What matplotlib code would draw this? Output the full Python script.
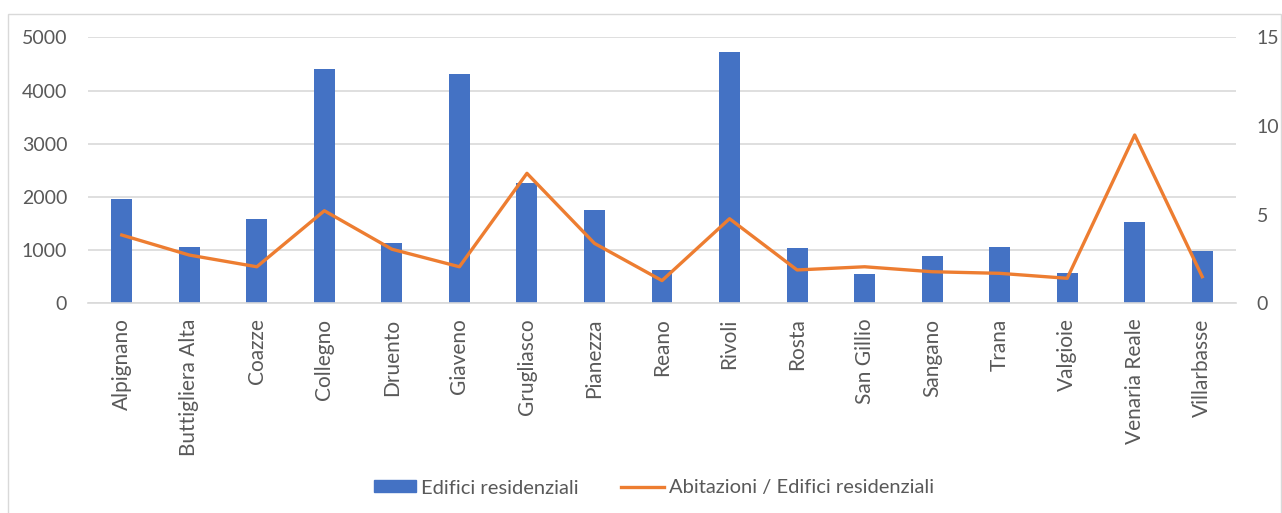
import numpy as np
import matplotlib.pyplot as plt
from matplotlib.patches import Rectangle
from matplotlib.lines import Line2D

plt.rcParams['font.family'] = ['Lato', 'DejaVu Sans']

# comuni e dati
comuni = ['Alpignano', 'Buttigliera Alta', 'Coazze', 'Collegno', 'Druento',
          'Giaveno', 'Grugliasco', 'Pianezza', 'Reano', 'Rivoli', 'Rosta',
          'San Gillio', 'Sangano', 'Trana', 'Valgioie', 'Venaria Reale',
          'Villarbasse']
edifici = [1960, 1064, 1579, 4398, 1139, 4310, 2256, 1754, 626, 4729, 1039,
           551, 889, 1064, 575, 1523, 989]
rapporto = [3.85, 2.72, 2.06, 5.22, 3.05, 2.06, 7.33, 3.38, 1.28, 4.77, 1.88,
            2.06, 1.78, 1.69, 1.41, 9.49, 1.50]

blu = '#4472C4'
arancio = '#ED7D31'
grigio = '#595959'

fig = plt.figure(figsize=(12.82, 5.13), dpi=100)
# cornice del grafico
fig.patches.append(Rectangle((8 / 1282, -0.01), 1273 / 1282, 1 - 14 / 513 + 0.01,
                             transform=fig.transFigure, fill=False,
                             edgecolor='#D9D9D9', linewidth=1))

ax = fig.add_axes([88 / 1282, 1 - 303.3 / 513, (1236 - 88) / 1282, (303.3 - 37.3) / 513])
x = np.arange(len(comuni))
ax.bar(x, edifici, width=0.31, color=blu, zorder=2)
ax.set_xlim(-0.5, len(comuni) - 0.5)
ax.set_ylim(0, 5000)
ax.set_yticks(np.arange(0, 5001, 1000))
ax.yaxis.grid(True, color='#D9D9D9', linewidth=1.2, zorder=0)
ax.set_axisbelow(True)
for s in ['top', 'right', 'left']:
    ax.spines[s].set_visible(False)
ax.spines['bottom'].set_color('#D9D9D9')
ax.spines['bottom'].set_linewidth(1.2)
ax.tick_params(axis='both', length=0, colors=grigio, labelsize=14)
ax.tick_params(axis='y', pad=15)
ax.set_xticks(x)
ax.set_xticklabels(comuni, rotation=90, fontsize=15)
ax.tick_params(axis='x', pad=11)

ax2 = ax.twinx()
ax2.plot(x, rapporto, color=arancio, linewidth=2.4, zorder=3)
ax2.set_ylim(0, 15)
ax2.set_yticks([0, 5, 10, 15])
for s in ax2.spines.values():
    s.set_visible(False)
ax2.tick_params(axis='y', length=0, colors=grigio, labelsize=14, pad=15)

handles = [Rectangle((0, 0), 1, 1, color=blu),
           Line2D([0], [0], color=arancio, linewidth=2.4)]
fig.legend(handles, ['Edifici residenziali', 'Abitazioni / Edifici residenziali'],
           loc='center', bbox_to_anchor=(654 / 1282, 1 - 488 / 513), ncol=2, frameon=False,
           fontsize=14.5, labelcolor=grigio, handlelength=2.1, handleheight=0.55,
           columnspacing=2.1, handletextpad=0.25)

fig.savefig('out.png', dpi=100)
